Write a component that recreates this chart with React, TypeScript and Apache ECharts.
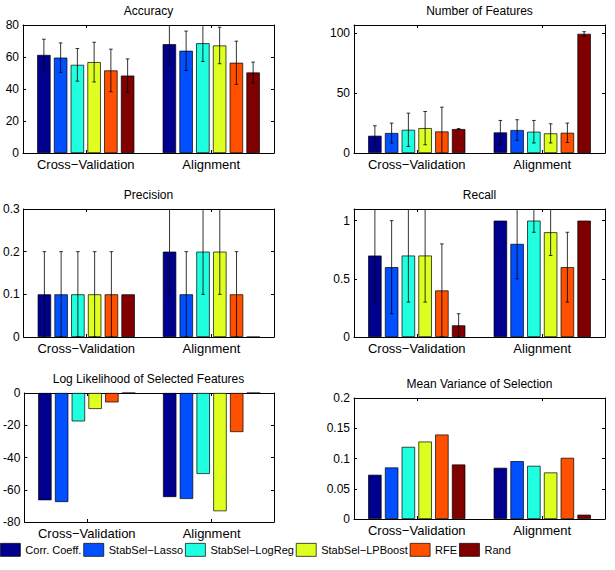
import React, { useEffect, useRef } from 'react';
import * as echarts from 'echarts';

const methods = ['Corr. Coeff.', 'StabSel−Lasso', 'StabSel−LogReg', 'StabSel−LPBoost', 'RFE', 'Rand'];
const colors = ['#00008F', '#0050FF', '#20FFDF', '#DFFF20', '#FF5000', '#800000'];
const categories = ['Cross−Validation', 'Alignment'];

const accuracyCV = [61.3, 59.6, 55.1, 56.8, 51.6, 48.4];
const accuracyCVErr = [9.8, 9.2, 10.2, 12.4, 13.3, 10.4];
const accuracyAlign = [68.0, 63.9, 68.6, 67.2, 56.4, 50.3];
const accuracyAlignErr = [12.5, 12.3, 11.4, 11.4, 13.5, 6.5];

const featuresCV = [14.4, 16.7, 19.4, 20.8, 18.0, 20.0];
const featuresCVErr = [8.4, 8.3, 13.9, 13.9, 20.3, 0.4];
const featuresAlign = [17.2, 19.2, 17.8, 16.4, 16.9, 99.6];
const featuresAlignErr = [10.0, 8.6, 9.4, 8.0, 8.1, 1.8];

const precisionCV = [0.1, 0.1, 0.1, 0.1, 0.1, 0.1];
const precisionCVErr = [0.1, 0.1, 0.1, 0.1, 0.1, 0];
const precisionAlign = [0.2, 0.1, 0.2, 0.2, 0.1, 0];
const precisionAlignErr = [0.1, 0.1, 0.1, 0.1, 0.1, 0];

const recallCV = [0.7, 0.6, 0.7, 0.7, 0.4, 0.1];
const recallCVErr = [0.4, 0.4, 0.4, 0.4, 0.4, 0.1];
const recallAlign = [1.0, 0.8, 1.0, 0.9, 0.6, 1.0];
const recallAlignErr = [0, 0.3, 0.1, 0.2, 0.3, 0];

const loglikCV = [-66.5, -67.6, -17.6, -9.9, -5.8, 0];
const loglikAlign = [-64.5, -65.7, -50.2, -73.3, -24.2, 0];

const meanVarCV = [0.0731, 0.0852, 0.1192, 0.128, 0.1396, 0.0901];
const meanVarAlign = [0.0846, 0.0956, 0.0879, 0.0769, 0.1011, 0.0071];

const panels = [
  { title: 'Accuracy', cv: accuracyCV, al: accuracyAlign, cvErr: accuracyCVErr, alErr: accuracyAlignErr, min: 0, max: 80, interval: 20 },
  { title: 'Number of Features', cv: featuresCV, al: featuresAlign, cvErr: featuresCVErr, alErr: featuresAlignErr, min: 0, max: 107, interval: 50 },
  { title: 'Precision', cv: precisionCV, al: precisionAlign, cvErr: precisionCVErr, alErr: precisionAlignErr, min: 0, max: 0.3, interval: 0.1 },
  { title: 'Recall', cv: recallCV, al: recallAlign, cvErr: recallCVErr, alErr: recallAlignErr, min: 0, max: 1.1, interval: 0.5 },
  { title: 'Log Likelihood of Selected Features', cv: loglikCV, al: loglikAlign, cvErr: null, alErr: null, min: -80, max: 0, interval: 20 },
  { title: 'Mean Variance of Selection', cv: meanVarCV, al: meanVarAlign, cvErr: null, alErr: null, min: 0, max: 0.2, interval: 0.05 },
];

const layout = [
  { left: 23, top: 25, width: 251, height: 128 },
  { left: 354, top: 25, width: 251, height: 128 },
  { left: 23, top: 209, width: 251, height: 128 },
  { left: 354, top: 209, width: 251, height: 128 },
  { left: 23, top: 393, width: 251, height: 129 },
  { left: 354, top: 398, width: 251, height: 121 },
];

const FONT = '"Liberation Sans", Arial, Helvetica, sans-serif';
const BAR_W = 13.4;
const BAR_GAP = 0.25;

function buildOption() {
  const grids: any[] = [];
  const xAxes: any[] = [];
  const yAxes: any[] = [];
  const series: any[] = [];
  const graphics: any[] = [];

  panels.forEach((p, pi) => {
    const g = layout[pi];
    grids.push({ left: g.left, top: g.top, width: g.width, height: g.height, containLabel: false });
    const lineStyle = { color: '#000', width: 1 };
    xAxes.push({
      type: 'category', gridIndex: pi, data: categories, position: 'bottom',
      axisLine: { show: true, onZero: false, lineStyle },
      axisTick: { show: true, inside: true, alignWithLabel: true, interval: 0, length: 3, lineStyle },
      axisLabel: { color: '#000', fontSize: 13, margin: 5, fontFamily: FONT, interval: 0 },
      splitLine: { show: false },
    });
    xAxes.push({
      type: 'category', gridIndex: pi, data: categories, position: 'top',
      axisLine: { show: true, onZero: false, lineStyle },
      axisTick: { show: true, inside: true, alignWithLabel: true, interval: 0, length: 3, lineStyle },
      axisLabel: { show: false },
      splitLine: { show: false },
    });
    const irregularMax = Math.abs(p.max / p.interval - Math.round(p.max / p.interval)) > 1e-6;
    yAxes.push({
      type: 'value', gridIndex: pi, min: p.min, max: p.max, interval: p.interval, position: 'left',
      axisLine: { show: true, onZero: false, lineStyle },
      axisTick: { show: true, inside: true, length: 3, lineStyle },
      axisLabel: { color: '#000', fontSize: 12, margin: 4, fontFamily: FONT, showMaxLabel: !irregularMax },
      splitLine: { show: false },
    });
    yAxes.push({
      type: 'value', gridIndex: pi, min: p.min, max: p.max, interval: p.interval, position: 'right',
      axisLine: { show: true, onZero: false, lineStyle },
      axisTick: { show: true, inside: true, length: 3, lineStyle },
      axisLabel: { show: false },
      splitLine: { show: false },
    });
    const xi = pi * 2;
    const yi = pi * 2;
    methods.forEach((m, mi) => {
      series.push({
        type: 'bar', name: m, xAxisIndex: xi, yAxisIndex: yi,
        data: [p.cv[mi], p.al[mi]],
        barWidth: BAR_W, barGap: BAR_GAP * 100 + '%',
        itemStyle: { color: colors[mi], borderColor: '#000', borderWidth: 0.7 },
        emphasis: { disabled: true },
      });
    });
    if (p.cvErr && p.alErr) {
      const errData: any[] = [];
      methods.forEach((m, mi) => {
        errData.push([0, p.cv[mi], p.cvErr![mi], mi]);
        errData.push([1, p.al[mi], p.alErr![mi], mi]);
      });
      series.push({
        type: 'custom', name: 'err' + pi, xAxisIndex: xi, yAxisIndex: yi, clip: true, z: 5,
        encode: { x: 0, y: 1 },
        data: errData,
        renderItem: (params: any, api: any) => {
          const c = api.value(0);
          const v = api.value(1);
          const e = api.value(2);
          const mi = api.value(3);
          if (!e) return null;
          const slot = BAR_W * (1 + BAR_GAP);
          const base = api.coord([c, v]);
          const x = base[0] + (mi - (methods.length - 1) / 2) * slot;
          const hi = api.coord([c, v + e])[1];
          const lo = api.coord([c, v - e])[1];
          const st = { stroke: '#000', lineWidth: 0.8 };
          const cap = 1.8;
          return {
            type: 'group',
            children: [
              { type: 'line', shape: { x1: x, y1: lo, x2: x, y2: hi }, style: st },
              { type: 'line', shape: { x1: x - cap, y1: lo, x2: x + cap, y2: lo }, style: st },
              { type: 'line', shape: { x1: x - cap, y1: hi, x2: x + cap, y2: hi }, style: st },
            ],
          };
        },
      });
    }
    graphics.push({
      type: 'text', x: g.left + g.width / 2, y: g.top - 14,
      style: { text: p.title, fill: '#000', font: '12px ' + FONT, textAlign: 'center', textVerticalAlign: 'middle' },
    });
  });

  return {
    animation: false,
    backgroundColor: '#fff',
    textStyle: { fontFamily: FONT },
    grid: grids,
    xAxis: xAxes,
    yAxis: yAxes,
    series,
    graphic: graphics,
    legend: {
      data: methods.map((m) => ({ name: m, icon: 'rect' })), left: 0, top: 543, padding: 0,
      itemWidth: 20, itemHeight: 13, itemGap: 2,
      selectedMode: false,
      itemStyle: { borderColor: '#000', borderWidth: 0.7 },
      textStyle: { fontSize: 11, color: '#000', fontFamily: FONT },
    },
  };
}

export default function App() {
  const ref = useRef<HTMLDivElement>(null);
  useEffect(() => {
    if (!ref.current) return;
    const chart = echarts.init(ref.current, undefined, { renderer: 'svg' });
    chart.setOption(buildOption() as any);
    return () => chart.dispose();
  }, []);
  return (
    <div
      ref={ref}
      style={{ position: 'absolute', left: 0, top: 0, width: 615, height: 570, background: '#fff' }}
    />
  );
}
